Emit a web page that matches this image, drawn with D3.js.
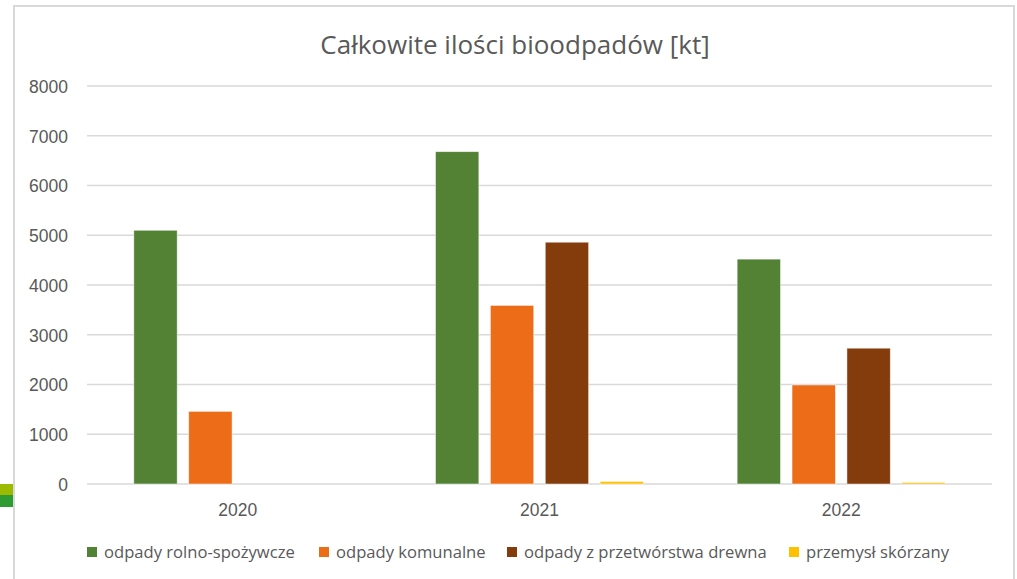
<!DOCTYPE html>
<html>
<head>
<meta charset="utf-8">
<script src="https://cdn.jsdelivr.net/npm/d3@7"></script>
<style>
  html, body { margin: 0; padding: 0; background: #ffffff; }
  svg { display: block; font-family: "Open Sans", "Noto Sans", sans-serif; }
</style>
</head>
<body>
<svg id="chart" width="1017" height="579"></svg>
<script>
// Years on the category axis
const years = ["2020", "2021", "2022"];

// Waste streams (legend order)
const seriesNames = [
  "odpady rolno-spożywcze",
  "odpady komunalne",
  "odpady z przetwórstwa drewna",
  "przemysł skórzany"
];

// Quantities in kt per stream, one value per year
const rolnoSpozywcze = [5100, 6680, 4520];
const komunalne      = [1460, 3590, 1990];
const drewno         = [0, 4860, 2730];
const skorzany       = [0, 50, 30];

const yTicks = [0, 1000, 2000, 3000, 4000, 5000, 6000, 7000, 8000];

const colors = ["#548235", "#EC6C17", "#843C0C", "#FFC000"];

const seriesValues = [rolnoSpozywcze, komunalne, drewno, skorzany];
const rows = years.map((yr, i) => ({
  year: yr,
  values: seriesNames.map((s, k) => ({ key: s, value: seriesValues[k][i] }))
}));

const svg = d3.select("#chart");

// stray colour swatches at the left page edge
svg.append("rect").attr("x", 0).attr("y", 484).attr("width", 14).attr("height", 11).attr("fill", "#9BBA00");
svg.append("rect").attr("x", 0).attr("y", 495).attr("width", 14).attr("height", 12).attr("fill", "#2E9C32");

// chart frame
svg.append("rect")
  .attr("x", 14).attr("y", 6)
  .attr("width", 1000).attr("height", 600)
  .attr("fill", "#ffffff")
  .attr("stroke", "#d9d9d9").attr("stroke-width", 2);

const plot = { left: 87, right: 992, top: 86, bottom: 484 };

const x0 = d3.scaleBand().domain(years).range([plot.left, plot.right]).paddingInner(0).paddingOuter(0);
const x1 = d3.scaleBand().domain(seriesNames).range([0, x0.bandwidth()])
  .paddingInner(0.21).paddingOuter(0.853);
const y = d3.scaleLinear().domain([0, 8000]).range([plot.bottom, plot.top]);

// gridlines
svg.append("g")
  .selectAll("line")
  .data(yTicks)
  .join("line")
  .attr("x1", plot.left).attr("x2", plot.right)
  .attr("y1", d => y(d)).attr("y2", d => y(d))
  .attr("stroke", "#d9d9d9").attr("stroke-width", 1.5);

// y axis labels
const yAxis = d3.axisLeft(y).tickValues(yTicks).tickSize(0).tickPadding(19).tickFormat(d3.format("d"));
const gy = svg.append("g").attr("transform", `translate(${plot.left},0)`).call(yAxis);
gy.select(".domain").remove();
gy.selectAll("text")
  .attr("fill", "#595959")
  .style("font-size", "17.5px")
  .attr("dy", "0.36em");

// x axis labels
const xAxis = d3.axisBottom(x0).tickSize(0).tickPadding(24);
const gx = svg.append("g").attr("transform", `translate(0,${plot.bottom})`).call(xAxis);
gx.select(".domain").remove();
gx.selectAll("text")
  .attr("fill", "#595959")
  .style("font-size", "17.5px")
  .attr("dy", "0.45em");

// bars
svg.append("g")
  .selectAll("g")
  .data(rows)
  .join("g")
  .attr("transform", d => `translate(${x0(d.year)},0)`)
  .selectAll("rect")
  .data(d => d.values.filter(v => v.value > 0))
  .join("rect")
  .attr("x", d => x1(d.key))
  .attr("width", x1.bandwidth())
  .attr("y", d => y(d.value))
  .attr("height", d => y(0) - y(d.value))
  .attr("fill", (d) => colors[seriesNames.indexOf(d.key)])
  .attr("stroke", "#ffffff").attr("stroke-opacity", 0.6).attr("stroke-width", 0.8);

// title
svg.append("text")
  .attr("x", 515).attr("y", 54)
  .attr("text-anchor", "middle")
  .attr("fill", "#595959")
  .style("font-size", "26px")
  .text("Całkowite ilości bioodpadów [kt]");

// legend
const legendX = [87, 319, 507, 789];
const legend = svg.append("g")
  .selectAll("g")
  .data(seriesNames)
  .join("g")
  .attr("transform", (d, i) => `translate(${legendX[i]},552)`);
legend.append("rect")
  .attr("x", 0).attr("y", -5)
  .attr("width", 10).attr("height", 10)
  .attr("fill", (d, i) => colors[i]);
legend.append("text")
  .attr("x", 17).attr("dy", "0.36em")
  .attr("fill", "#595959")
  .style("font-size", "16.6px")
  .text(d => d);
</script>
</body>
</html>
